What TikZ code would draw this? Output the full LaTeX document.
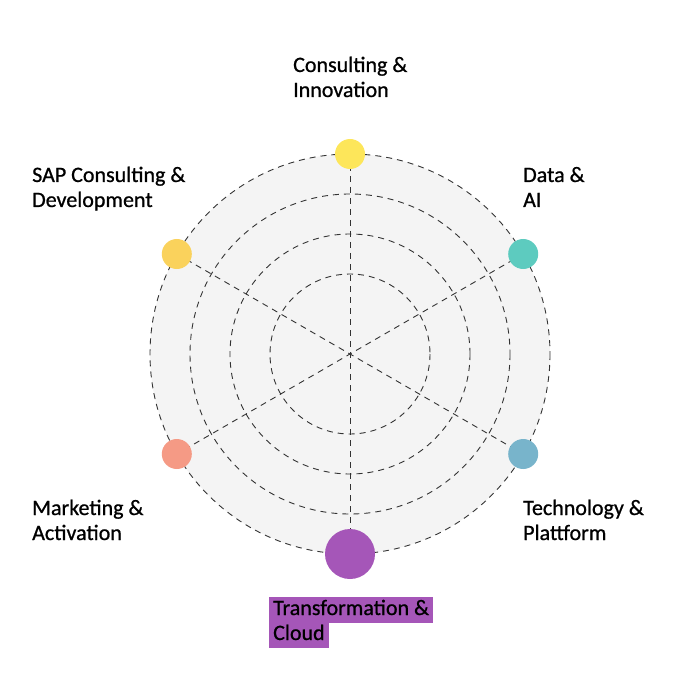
\documentclass[tikz,border=0pt]{standalone}
\usepackage{fontspec}
\setmainfont[FakeBold=0.8]{Carlito}
\definecolor{ringfill}{HTML}{F4F4F4}
\definecolor{dashcol}{HTML}{333333}
\definecolor{cyellow}{HTML}{FDE65A}
\definecolor{cgold}{HTML}{FAD25C}
\definecolor{cteal}{HTML}{5DCBBF}
\definecolor{csalmon}{HTML}{F59A85}
\definecolor{cblue}{HTML}{78B4CB}
\definecolor{cpurple}{HTML}{A556B8}
\begin{document}
\begin{tikzpicture}[x=1pt,y=-1pt,
  ring/.style={draw=dashcol, line width=0.9pt, dash pattern=on 6pt off 5pt},
  spoke/.style={draw=dashcol, line width=0.9pt, dash pattern=on 6pt off 5pt},
  dot/.style={circle, inner sep=0pt, minimum size=30pt, fill=#1},
  lbl/.style={anchor=base west, inner sep=0pt, font=\fontsize{22}{25}\selectfont},
  hl/.style={anchor=base west, inner xsep=4pt, inner ysep=0pt, text height=18.5pt, text depth=7.5pt, fill=cpurple, font=\fontsize{22}{25}\selectfont}
]
\useasboundingbox (0,0) rectangle (700,700);
\coordinate (c) at (350,354);
\fill[ringfill] (c) circle (200);
\draw[ring] (c) circle (200);
\draw[ring] (c) circle (160);
\draw[ring] (c) circle (120);
\draw[ring] (c) circle (80);
\coordinate (pt) at (350,154);
\coordinate (pb) at (350,554);
\coordinate (pur) at (523.2,254);
\coordinate (pll) at (176.8,454);
\coordinate (pul) at (176.8,254);
\coordinate (plr) at (523.2,454);
\draw[spoke] (pt) -- (pb);
\draw[spoke] (pur) -- (pll);
\draw[spoke] (pul) -- (plr);
\node[dot=cyellow] (dtop) at (pt) {};
\node[dot=cgold] (dul) at (pul) {};
\node[dot=cteal] (dur) at (pur) {};
\node[dot=csalmon] (dll) at (pll) {};
\node[dot=cblue] (dlr) at (plr) {};
\node[dot=cpurple, minimum size=50pt] (dbot) at (pb) {};
\node[lbl] (t1a) at (293,72) {Consulting \&};
\node[lbl] (t1b) at (293,97) {Innovation};
\node[lbl] (t2a) at (32,182) {SAP Consulting \&};
\node[lbl] (t2b) at (32,207) {Development};
\node[lbl] (t3a) at (523,182) {Data \&};
\node[lbl] (t3b) at (523,207) {AI};
\node[lbl] (t4a) at (32,515) {Marketing \&};
\node[lbl] (t4b) at (32,540) {Activation};
\node[lbl] (t5a) at (523,515) {Technology \&};
\node[lbl] (t5b) at (523,540) {Plattform};
\node[hl] (t6a) at (269,615) {Transformation \&};
\node[hl] (t6b) at (269,640) {Cloud};
\end{tikzpicture}
\end{document}
